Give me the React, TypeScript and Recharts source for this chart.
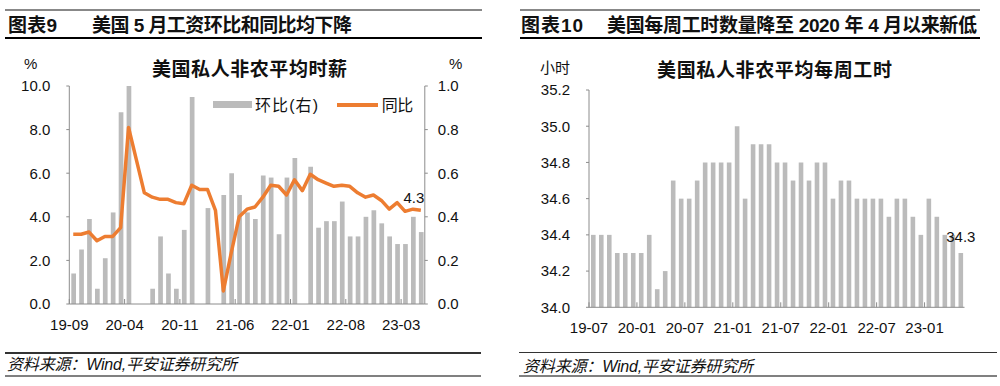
import React from 'react';
import { ComposedChart, BarChart, Bar, Line, XAxis, YAxis, LabelList } from 'recharts';

const wageMonths = [
  '19-09', '19-10', '19-11', '19-12',
  '20-01', '20-02', '20-03', '20-04', '20-05', '20-06', '20-07', '20-08', '20-09', '20-10', '20-11', '20-12',
  '21-01', '21-02', '21-03', '21-04', '21-05', '21-06', '21-07', '21-08', '21-09', '21-10', '21-11', '21-12',
  '22-01', '22-02', '22-03', '22-04', '22-05', '22-06', '22-07', '22-08', '22-09', '22-10', '22-11', '22-12',
  '23-01', '23-02', '23-03', '23-04', '23-05',
];
// 环比 (right axis, %)
const wageMoM = [
  0.14, 0.25, 0.39, 0.07,
  0.21, 0.42, 0.88, 1.0, -0.05, -0.05, 0.07, 0.31, 0.14, 0.07, 0.34, 0.95,
  -0.05, 0.44, -0.05, 0.5, 0.6, 0.5, 0.42, 0.39, 0.59, 0.58, 0.32, 0.58,
  0.67, 0.0, 0.63, 0.35, 0.38, 0.38, 0.47, 0.31, 0.31, 0.4, 0.43, 0.37,
  0.31, 0.275, 0.275, 0.4, 0.33,
];
// 同比 (left axis, %)
const wageYoY = [
  3.2, 3.2, 3.3, 2.9,
  3.1, 3.1, 3.5, 8.1, 6.6, 5.1, 4.9, 4.8, 4.8, 4.65, 4.6, 5.45,
  5.25, 5.25, 4.3, 0.6, 2.35, 4.0, 4.35, 4.45, 4.9, 5.45, 5.4, 5.0,
  5.7, 5.2, 5.95, 5.7, 5.55, 5.4, 5.45, 5.4, 5.1, 4.9, 5.0, 4.75,
  4.35, 4.65, 4.25, 4.35, 4.3,
];
const wageLeftTicks = [0, 2, 4, 6, 8, 10];
const wageRightTicks = [0, 0.2, 0.4, 0.6, 0.8, 1.0];

const hourMonths = [
  '19-07', '19-08', '19-09', '19-10', '19-11', '19-12',
  '20-01', '20-02', '20-03', '20-04', '20-05', '20-06', '20-07', '20-08', '20-09', '20-10', '20-11', '20-12',
  '21-01', '21-02', '21-03', '21-04', '21-05', '21-06', '21-07', '21-08', '21-09', '21-10', '21-11', '21-12',
  '22-01', '22-02', '22-03', '22-04', '22-05', '22-06', '22-07', '22-08', '22-09', '22-10', '22-11', '22-12',
  '23-01', '23-02', '23-03', '23-04', '23-05',
];
const hourValues = [
  34.4, 34.4, 34.4, 34.3, 34.3, 34.3,
  34.3, 34.4, 34.1, 34.2, 34.7, 34.6, 34.6, 34.7, 34.8, 34.8, 34.8, 34.8,
  35.0, 34.6, 34.9, 34.9, 34.9, 34.8, 34.8, 34.7, 34.8, 34.7, 34.8, 34.8,
  34.6, 34.7, 34.7, 34.6, 34.6, 34.6, 34.6, 34.5, 34.6, 34.6, 34.5, 34.4,
  34.6, 34.5, 34.4, 34.4, 34.3,
];
const hourTicks = [34.0, 34.2, 34.4, 34.6, 34.8, 35.0, 35.2];

const wageData = wageMonths.map((m, i) => ({ month: m, mom: wageMoM[i], yoy: wageYoY[i] }));
const hourData = hourMonths.map((m, i) => ({ month: m, hours: hourValues[i] }));

const FONT = '"Liberation Sans", Arial, "Noto Sans CJK SC", sans-serif';
const BAR = '#BBBBBB';
const ORANGE = '#ED7D31';
const AXIS = '#8C8C8C';
const TEXT = '#111111';

const LEFT_PLOT_W = 355.5;
const RIGHT_PLOT_W = 375.5;

const BoundaryTick = (props: any) => {
  const { x, y, payload, band } = props;
  const tx = x - band / 2;
  return (
    <g>
      <line x1={tx} x2={tx} y1={y - 5} y2={y} stroke={AXIS} strokeWidth={1} />
      <text x={tx} y={y + 20} textAnchor="middle" dominantBaseline="central" fontSize={15} fill={TEXT} fontFamily={FONT}>
        {payload.value}
      </text>
    </g>
  );
};

// Overlay text with exact width via textLength
const T = ({ x, y, size, w, bold, italic, anchor, children }: any) => (
  <text
    x={x}
    y={y}
    fontSize={size}
    fontWeight={bold ? 700 : 400}
    fontStyle={italic ? 'italic' : 'normal'}
    fontFamily={FONT}
    fill={TEXT}
    dominantBaseline="central"
    textAnchor={anchor || 'start'}
    textLength={w}
    lengthAdjust={w ? 'spacing' : undefined}
  >
    {children}
  </text>
);

const HLine = ({ x1, x2, y, h, color }: any) => (
  <div style={{ position: 'absolute', left: x1, width: x2 - x1, top: y - h / 2, height: h, background: color }} />
);

const lastWageLabel = (props: any) => {
  const { x, y, index, value } = props;
  if (index !== wageYoY.length - 1) return null;
  return (
    <text x={x - 7} y={y - 13} textAnchor="middle" dominantBaseline="central" fontSize={15} fill={TEXT} fontFamily={FONT}>
      {Number(value).toFixed(1)}
    </text>
  );
};

const lastHourLabel = (props: any) => {
  const { x, y, width, index, value } = props;
  if (index !== hourValues.length - 1) return null;
  return (
    <text x={x + width / 2} y={y - 16} textAnchor="middle" dominantBaseline="central" fontSize={15} fill={TEXT} fontFamily={FONT}>
      {Number(value).toFixed(1)}
    </text>
  );
};

export default function App() {
  const tickStyle = { fontSize: 15, fill: TEXT, fontFamily: FONT };
  return (
    <div style={{ position: 'absolute', left: 0, top: 0, width: 1000, height: 386, background: '#fff', fontFamily: FONT, overflow: 'hidden' }}>
      {/* header / footer rules */}
      <HLine x1={5} x2={482} y={10} h={2} color="#888" />
      <HLine x1={5} x2={482} y={38} h={2.5} color="#000" />
      <HLine x1={520} x2={980} y={10} h={2} color="#888" />
      <HLine x1={520} x2={980} y={38} h={2.5} color="#000" />
      <HLine x1={5} x2={481} y={353} h={1.5} color="#333" />
      <HLine x1={5} x2={481} y={375.5} h={2} color="#808080" />
      <HLine x1={519} x2={997} y={352.7} h={1.5} color="#333" />
      <HLine x1={519} x2={997} y={376} h={2} color="#808080" />

      {/* Left chart */}
      <div style={{ position: 'absolute', left: 0, top: 0 }}>
        <ComposedChart width={500} height={386} data={wageData} margin={{ top: 86, right: 25.2, bottom: 52, left: 19.3 }}>
          <XAxis
            dataKey="month"
            interval={6}
            tickSize={0}
            tickMargin={0}
            tickLine={false}
            height={30}
            axisLine={{ stroke: AXIS }}
            tick={(p: any) => <BoundaryTick {...p} band={LEFT_PLOT_W / wageMonths.length} />}
          />
          <YAxis
            yAxisId="l"
            domain={[0, 10]}
            ticks={wageLeftTicks}
            tickFormatter={(v: number) => v.toFixed(1)}
            width={50}
            tickSize={3}
            tickMargin={16}
            axisLine={{ stroke: AXIS }}
            tickLine={{ stroke: AXIS }}
            tick={tickStyle}
            interval={0}
          />
          <YAxis
            yAxisId="r"
            orientation="right"
            domain={[0, 1]}
            allowDataOverflow
            ticks={wageRightTicks}
            tickFormatter={(v: number) => v.toFixed(1)}
            width={50}
            tickSize={3}
            tickMargin={10}
            axisLine={{ stroke: AXIS }}
            tickLine={{ stroke: AXIS }}
            tick={tickStyle}
            interval={0}
          />
          <Bar yAxisId="r" dataKey="mom" fill={BAR} barSize={4.7} isAnimationActive={false} />
          <Line
            yAxisId="l"
            type="linear"
            dataKey="yoy"
            stroke={ORANGE}
            strokeWidth={3.5}
            strokeLinejoin="round"
            dot={false}
            activeDot={false}
            isAnimationActive={false}
          >
            <LabelList dataKey="yoy" content={lastWageLabel} />
          </Line>
        </ComposedChart>
      </div>

      {/* legend swatches */}
      <div style={{ position: 'absolute', left: 212.7, top: 101, width: 39, height: 7.3, background: BAR }} />
      <div style={{ position: 'absolute', left: 336.7, top: 103, width: 41.6, height: 4, background: ORANGE }} />

      {/* Right chart */}
      <div style={{ position: 'absolute', left: 500, top: 0 }}>
        <BarChart width={500} height={386} data={hourData} margin={{ top: 90, right: 35.5, bottom: 48.7, left: 39 }}>
          <XAxis
            dataKey="month"
            interval={5}
            tickSize={0}
            tickMargin={0}
            tickLine={false}
            height={30}
            axisLine={{ stroke: AXIS }}
            tick={(p: any) => <BoundaryTick {...p} band={RIGHT_PLOT_W / hourMonths.length} />}
          />
          <YAxis
            domain={[34.0, 35.2]}
            ticks={hourTicks}
            tickFormatter={(v: number) => v.toFixed(1)}
            width={50}
            tickSize={3}
            tickMargin={16}
            axisLine={{ stroke: AXIS }}
            tickLine={{ stroke: AXIS }}
            tick={tickStyle}
            interval={0}
          />
          <Bar dataKey="hours" fill={BAR} barSize={4.6} isAnimationActive={false}>
            <LabelList dataKey="hours" content={lastHourLabel} />
          </Bar>
        </BarChart>
      </div>

      {/* Text overlay */}
      <svg width={1000} height={386} style={{ position: 'absolute', left: 0, top: 0, pointerEvents: 'none' }}>
        <T x={8} y={25.5} size={19} w={49} bold>图表9</T>
        <T x={92} y={25.5} size={19} w={260} bold>美国 5 月工资环比和同比均下降</T>
        <T x={521} y={25.5} size={19} w={62} bold>图表10</T>
        <T x={607} y={25.5} size={19} w={370} bold>美国每周工时数量降至 2020 年 4 月以来新低</T>

        <T x={152} y={69} size={19} w={195} bold>美国私人非农平均时薪</T>
        <T x={24} y={63} size={15}>%</T>
        <T x={449} y={63} size={15}>%</T>
        <T x={255} y={105} size={16} w={63}>环比(右)</T>
        <T x={381.7} y={105} size={16} w={31.6}>同比</T>

        <T x={657} y={70} size={19} w={235} bold>美国私人非农平均每周工时</T>
        <T x={540} y={67} size={15} w={30}>小时</T>

        <T x={7} y={364} size={16} w={230} italic>资料来源：Wind,平安证券研究所</T>
        <T x={523} y={366} size={16} w={230} italic>资料来源：Wind,平安证券研究所</T>
      </svg>
    </div>
  );
}
